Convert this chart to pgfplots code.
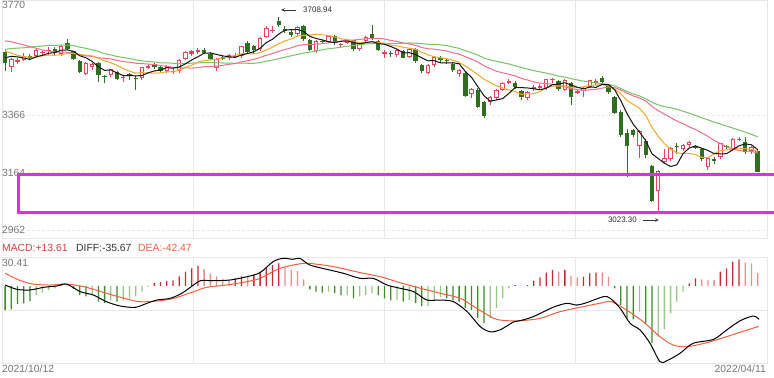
\documentclass[border=0pt]{standalone}
\usepackage{pgfplots}
\pgfplotsset{compat=1.18}
\usepackage{pgfplotstable}
\usepackage{fontspec}
\setmainfont{Liberation Sans}
\definecolor{upred}{RGB}{232,66,92}
\definecolor{dngreen}{RGB}{48,110,32}
\definecolor{ma5}{RGB}{20,20,20}
\definecolor{ma10}{RGB}{240,168,40}
\definecolor{ma20}{RGB}{240,110,140}
\definecolor{ma30}{RGB}{120,196,100}
\definecolor{gridc}{RGB}{232,232,232}
\definecolor{labc}{RGB}{120,120,120}
\definecolor{magen}{RGB}{222,48,222}
\definecolor{hred}{RGB}{196,40,48}
\definecolor{hredl}{RGB}{236,140,140}
\definecolor{hgrn}{RGB}{60,140,40}
\definecolor{hgrnl}{RGB}{150,200,130}
\definecolor{deac}{RGB}{240,96,64}
\definecolor{macdc}{RGB}{224,60,60}

\pgfplotstableread{
i o h l c m5 m10 m20 m30
0 3588 3594 3520 3547 3567.0 3590.3 3626.4 3596.7
1 3535 3565 3518 3562 3572.2 3583.7 3623.4 3599.5
2 3553 3567 3545 3558 3570.2 3575.3 3617.5 3601.0
3 3560 3584 3556 3572 3566.2 3571.2 3612.3 3602.0
4 3572 3580 3558 3568 3561.4 3569.7 3606.1 3604.3
5 3572 3598 3568 3593 3570.6 3568.8 3600.6 3606.6
6 3585 3592 3578 3587 3575.6 3573.9 3594.2 3608.6
7 3590 3604 3578 3595 3583.0 3576.6 3590.8 3610.3
8 3597 3604 3575 3583 3585.2 3575.7 3587.1 3610.8
9 3582 3612 3572 3610 3593.6 3577.5 3587.3 3611.3
10 3618 3634 3594 3598 3594.6 3582.6 3586.5 3611.8
11 3590 3592 3559 3562 3589.6 3582.6 3583.2 3609.8
12 3556 3558 3515 3518 3574.2 3578.6 3577.0 3604.5
13 3510 3552 3506 3547 3567.0 3576.1 3573.7 3600.2
14 3535 3550 3525 3544 3553.8 3573.7 3571.7 3595.3
15 3549 3552 3482 3506 3535.4 3565.0 3566.9 3588.7
16 3500 3506 3478 3499 3522.8 3556.2 3565.1 3581.5
17 3505 3528 3500 3527 3524.6 3549.4 3563.0 3577.0
18 3518 3522 3488 3492 3513.6 3540.3 3558.0 3571.5
19 3495 3502 3482 3499 3504.6 3529.2 3553.4 3567.9
20 3508 3515 3490 3507 3504.8 3520.1 3551.4 3564.3
21 3496 3502 3455 3492 3503.4 3513.1 3547.9 3559.8
22 3495 3536 3490 3533 3504.6 3514.6 3546.6 3556.2
23 3532 3545 3528 3539 3514.0 3513.8 3545.0 3553.7
24 3545 3550 3528 3533 3520.8 3512.7 3543.2 3552.0
25 3535 3542 3518 3522 3523.8 3514.3 3539.7 3549.4
26 3520 3540 3515 3537 3532.8 3518.1 3537.2 3549.4
27 3516 3530 3510 3521 3530.4 3517.5 3533.5 3547.8
28 3520 3563 3515 3560 3534.6 3524.3 3532.3 3546.8
29 3562 3592 3560 3589 3545.8 3533.3 3531.3 3546.7
30 3582 3594 3575 3590 3559.4 3541.6 3530.9 3548.1
31 3588 3600 3580 3593 3570.6 3551.7 3532.4 3549.1
32 3595 3600 3580 3584 3583.2 3556.8 3535.7 3550.0
33 3582 3586 3560 3564 3584.0 3559.3 3536.6 3549.7
34 3530 3566 3520 3563 3578.8 3562.3 3537.5 3549.6
35 3570 3578 3560 3564 3573.6 3566.5 3540.4 3548.6
36 3565 3582 3558 3577 3570.4 3570.5 3544.3 3548.3
37 3570 3584 3565 3574 3568.4 3575.8 3546.7 3547.6
38 3572 3610 3565 3607 3577.0 3580.5 3552.4 3548.4
39 3620 3625 3585 3589 3582.2 3580.5 3556.9 3547.7
40 3610 3612 3580 3595 3588.4 3581.0 3561.3 3547.6
41 3597 3640 3592 3638 3600.6 3585.5 3568.6 3550.1
42 3640 3680 3636 3673 3620.4 3594.4 3575.6 3555.3
43 3660 3677 3655 3666 3632.2 3604.6 3582.0 3559.2
44 3695 3709 3675 3681 3650.6 3616.4 3589.4 3563.8
45 3667 3677 3655 3662 3664.0 3626.2 3596.4 3569.0
46 3658 3665 3640 3648 3666.0 3633.3 3601.9 3574.0
47 3650 3678 3645 3675 3666.4 3643.4 3609.6 3578.9
48 3680 3682 3625 3632 3659.6 3645.9 3613.2 3583.6
49 3628 3632 3590 3594 3642.2 3646.4 3613.5 3586.7
50 3590 3628 3585 3625 3634.8 3649.4 3615.2 3590.7
51 3626 3630 3615 3623 3629.8 3647.9 3616.7 3595.0
52 3622 3645 3618 3643 3623.4 3644.9 3619.7 3598.7
53 3645 3648 3612 3618 3620.6 3640.1 3622.4 3601.3
54 3612 3620 3600 3616 3625.0 3633.6 3625.0 3604.1
55 3620 3632 3615 3630 3626.0 3630.4 3628.3 3607.7
56 3628 3630 3592 3597 3620.8 3625.3 3629.3 3609.7
57 3598 3622 3590 3619 3616.0 3619.7 3631.6 3613.0
58 3625 3642 3622 3640 3620.4 3620.5 3633.2 3615.6
59 3650 3682 3628 3632 3623.6 3624.3 3635.4 3617.1
60 3625 3628 3590 3595 3616.6 3621.3 3635.4 3617.2
61 3580 3596 3566 3586 3614.4 3617.6 3632.8 3617.0
62 3584 3590 3570 3580 3606.6 3611.3 3628.1 3616.9
63 3576 3598 3570 3594 3597.4 3608.9 3624.5 3617.9
64 3590 3595 3565 3567 3584.4 3604.0 3618.8 3618.0
65 3570 3600 3568 3597 3584.8 3600.7 3615.6 3619.1
66 3598 3602 3550 3555 3578.6 3596.5 3610.9 3618.4
67 3540 3545 3515 3521 3566.8 3586.7 3603.2 3616.6
68 3515 3545 3510 3542 3556.4 3576.9 3598.7 3614.4
69 3540 3575 3535 3570 3557.0 3570.7 3597.5 3613.8
70 3565 3575 3550 3558 3549.2 3567.0 3594.2 3612.6
71 3560 3568 3545 3555 3549.2 3563.9 3590.8 3609.8
72 3545 3550 3518 3523 3549.6 3558.2 3584.8 3604.8
73 3510 3528 3500 3524 3546.0 3551.2 3580.1 3600.1
74 3512 3516 3430 3433 3518.6 3537.8 3570.9 3591.8
75 3440 3460 3425 3456 3498.2 3523.7 3562.2 3584.9
76 3455 3462 3390 3394 3466.0 3507.6 3552.1 3576.5
77 3410 3416 3357 3361 3433.6 3491.6 3539.2 3566.0
78 3410 3433 3400 3430 3414.8 3480.4 3528.7 3559.3
79 3425 3456 3418 3453 3418.8 3468.7 3519.7 3554.6
80 3455 3481 3450 3480 3423.6 3460.9 3514.0 3549.7
81 3480 3492 3475 3486 3442.0 3454.0 3509.0 3545.2
82 3478 3484 3458 3463 3462.4 3448.0 3503.1 3539.2
83 3450 3455 3420 3429 3462.2 3438.5 3494.9 3532.9
84 3425 3450 3418 3447 3461.0 3439.9 3488.9 3527.2
85 3458 3470 3450 3466 3458.2 3440.9 3482.3 3521.8
86 3462 3475 3458 3468 3454.6 3448.3 3478.0 3517.5
87 3462 3493 3455 3491 3460.2 3461.3 3476.5 3513.2
88 3488 3496 3478 3491 3472.6 3467.4 3473.9 3508.2
89 3485 3490 3450 3457 3474.6 3467.8 3468.3 3502.4
90 3455 3491 3450 3489 3479.2 3468.7 3464.8 3498.9
91 3480 3482 3400 3430 3471.6 3463.1 3458.6 3493.7
92 3445 3455 3440 3451 3463.6 3461.9 3455.0 3489.4
93 3450 3465 3430 3462 3457.8 3465.2 3451.9 3485.0
94 3465 3490 3460 3489 3464.2 3469.4 3454.7 3482.4
95 3480 3492 3470 3484 3463.2 3471.2 3456.1 3478.6
96 3497 3502 3478 3481 3473.4 3472.5 3460.4 3476.1
97 3470 3472 3440 3448 3472.8 3468.2 3464.8 3473.7
98 3430 3432 3370 3373 3455.0 3456.4 3461.9 3468.1
99 3378 3382 3290 3294 3416.0 3440.1 3454.0 3458.9
100 3303 3318 3148 3256 3370.4 3416.8 3442.8 3448.8
101 3313 3318 3290 3296 3333.4 3403.4 3433.3 3440.2
102 3257 3315 3215 3310 3305.8 3389.3 3425.6 3433.1
103 3275 3280 3215 3224 3276.0 3365.5 3415.4 3423.1
104 3187 3190 3060 3064 3230.0 3323.0 3396.2 3410.8
105 3100 3172 3023.3 3171 3213.0 3291.7 3381.5 3401.3
106 3200 3245 3195 3215 3196.8 3265.1 3368.8 3395.3
107 3210 3255 3205 3251 3185.0 3245.4 3356.8 3391.6
108 3258 3268 3230 3254 3191.0 3233.5 3345.0 3385.8
109 3248 3265 3240 3260 3230.2 3230.1 3335.1 3379.3
110 3262 3276 3255 3271 3250.2 3231.6 3324.2 3372.4
111 3255 3260 3245 3250 3257.2 3227.0 3315.2 3364.5
112 3245 3250 3205 3212 3249.4 3217.2 3303.3 3356.1
113 3182 3218 3172 3215 3241.6 3216.3 3290.9 3349.0
114 3212 3218 3195 3204 3230.4 3230.3 3276.7 3340.9
115 3218 3268 3212 3267 3229.6 3239.9 3265.8 3334.3
116 3256 3262 3245 3252 3230.0 3243.6 3254.4 3327.1
117 3245 3285 3240 3283 3244.2 3246.8 3246.1 3320.1
118 3278 3290 3275 3283 3257.8 3249.7 3241.6 3313.2
119 3270 3290 3228 3237 3264.4 3247.4 3238.8 3305.9
120 3240 3256 3230 3252 3261.4 3245.5 3238.6 3298.0
121 3240 3245 3165 3167 3244.4 3237.2 3232.1 3289.2
}\kdata

\pgfplotstableread{
i v k
0 -25.2 3
1 -24.5 3
2 -19 3
3 -18.2 3
4 -15.8 3
5 -9.5 4
6 -7 4
7 -4.2 4
8 -2.5 4
9 1 1
10 1 2
11 -3 3
12 -9.5 3
13 -11 3
14 -9.5 4
15 -16.5 3
16 -18 3
17 -15 4
18 -16.5 3
19 -15 4
20 -13 4
21 -11 4
22 -6 4
23 -1 4
24 3 1
25 4 1
26 5 1
27 6 1
28 10 1
29 15 1
30 18.5 1
31 21 1
32 17.5 2
33 13 2
34 10 2
35 7 2
36 6.5 2
37 8 1
38 10 1
39 10 2
40 12 1
41 15 1
42 19.6 1
43 22 1
44 23.8 1
45 20 2
46 17 2
47 15.5 2
48 7 2
49 -3.5 3
50 -6 3
51 -7 3
52 -6 4
53 -7.5 3
54 -9.5 3
55 -9.5 4
56 -13 3
57 -11 4
58 -9.5 4
59 -7.5 4
60 -9.5 3
61 -13 3
62 -15 3
63 -15 4
64 -16.5 3
65 -15 4
66 -18 3
67 -21 3
68 -21 4
69 -15 4
70 -11.5 4
71 -13 3
72 -15 3
73 -16.5 3
74 -23 3
75 -25 3
76 -33.5 3
77 -39 3
78 -33.5 4
79 -23 4
80 -13 4
81 -2.5 4
82 1 1
83 0.5 2
84 1 1
85 5.6 1
86 9.1 1
87 14 1
88 16.8 1
89 15.1 2
90 16.8 1
91 10.8 2
92 9.1 2
93 9.8 1
94 13.3 1
95 14 1
96 14 2
97 9.8 2
98 -2.4 3
99 -20 3
100 -34 3
101 -35 3
102 -27 4
103 -39 3
104 -60 3
105 -53 4
106 -45.5 4
107 -28.7 4
108 -16.5 4
109 -6 4
110 2.8 1
111 8 1
112 7 2
113 6.3 2
114 6.3 2
115 15 1
116 18.5 1
117 25.5 1
118 28 1
119 24.5 2
120 23.8 2
121 13.6 2
}\hdata

\newcommand\lab{\fontsize{10.4}{12}\selectfont}
\newcommand\sml{\fontsize{8}{9.6}\selectfont}

\pgfplotsset{
  candle/.style 2 args={draw=none, no markers, forget plot,
    error bars/y dir=plus, error bars/y explicit, error bars/error mark=none,
    error bars/error bar style={draw=#1, line width=#2, solid}},
}

\begin{document}
\begin{tikzpicture}
\useasboundingbox (0,0) rectangle (774bp,-378bp);
\fill[white] (0,0) rectangle (774bp,-378bp);

% ===== main K-line panel =====
\begin{axis}[at={(2bp,0bp)}, anchor=north west, scale only axis,
  width=765bp, height=238bp,
  xmin=-0.5, xmax=122.5, ymin=2933.9, ymax=3770,
  axis line style={gridc, line width=0.8bp},
  xtick={30.25,61,91.75}, xticklabels={}, ytick=\empty,
  major tick length=0pt, xmajorgrids, grid style={gridc, line width=0.8bp},
  clip=false]
  \draw[gridc, line width=0.8bp, dash pattern=on 3bp off 2bp] (axis cs:-0.5,3366) -- (axis cs:122.5,3366);
  \draw[gridc, line width=0.8bp, dash pattern=on 3bp off 2bp] (axis cs:-0.5,3164) -- (axis cs:122.5,3164);
  \draw[gridc, line width=0.8bp, dash pattern=on 3bp off 2bp] (axis cs:-0.5,2962) -- (axis cs:122.5,2962);

  % wicks
  \addplot[candle={dngreen}{1bp},
    x filter/.expression={\thisrow{c}<\thisrow{o} ? x : nan}]
    table[x=i, y=l, y error expr={\thisrow{h}-\thisrow{l}}] {\kdata};
  \addplot[candle={upred}{1bp},
    x filter/.expression={\thisrow{c}<\thisrow{o} ? nan : x}]
    table[x=i, y=l, y error expr={\thisrow{h}-\thisrow{l}}] {\kdata};
  % bodies
  \addplot[candle={dngreen}{4.4bp},
    x filter/.expression={\thisrow{c}<\thisrow{o} ? x : nan}]
    table[x=i, y=c, y error expr={max(\thisrow{o}-\thisrow{c},3.5)}] {\kdata};
  \addplot[candle={upred}{4.4bp},
    x filter/.expression={\thisrow{c}<\thisrow{o} ? nan : x}]
    table[x=i, y=o, y error expr={max(\thisrow{c}-\thisrow{o},3.5)}] {\kdata};
  \addplot[candle={white}{2.4bp},
    x filter/.expression={\thisrow{c}-\thisrow{o}>8 ? x : nan}]
    table[x=i, y expr=\thisrow{o}+3.5, y error expr={\thisrow{c}-\thisrow{o}-7}] {\kdata};

  % moving averages
  \addplot[ma30, line width=1bp, mark=none] table[x=i, y=m30] {\kdata};
  \addplot[ma20, line width=1bp, mark=none] table[x=i, y=m20] {\kdata};
  \addplot[ma10, line width=1bp, mark=none] table[x=i, y=m10] {\kdata};
  \addplot[ma5, line width=1bp, mark=none] table[x=i, y=m5] {\kdata};

  % highlight box
  \draw[magen, line width=3bp] (axis cs:123.8,3158.7) -- (axis cs:2.1,3158.7) -- (axis cs:2.1,3025.2) -- (axis cs:123.8,3025.2);

  % high / low annotations
  \draw[->, >=stealth, line width=0.6bp, black!80] (axis cs:46.8,3735) -- (axis cs:44.4,3735);
  \node[anchor=west, inner sep=0pt, text=black!80, font=\sml] at (axis cs:47.9,3735) {3708.94};
  \draw[->, >=stealth, line width=0.6bp, black!80] (axis cs:102.6,2997) -- (axis cs:105.1,2997);
  \node[anchor=east, inner sep=0pt, text=black!80, font=\sml] at (axis cs:101.6,2997) {3023.30};
\end{axis}

% ===== MACD panel =====
\begin{axis}[at={(2bp,-257bp)}, anchor=north west, scale only axis,
  width=765bp, height=106bp,
  xmin=-0.5, xmax=122.5, ymin=-80.8, ymax=30.41,
  axis line style={gridc, line width=0.8bp},
  xtick={30.25,61,91.75}, xticklabels={}, ytick={-25.2}, yticklabels={},
  major tick length=0pt, grid=major, grid style={gridc, line width=0.8bp}]
  \addplot[ybar, bar width=1.3bp, bar shift=0pt, fill=hred, draw=none, forget plot,
    x filter/.expression={\thisrow{k}==1 ? x : nan}] table[x=i, y=v] {\hdata};
  \addplot[ybar, bar width=1.3bp, bar shift=0pt, fill=hredl, draw=none, forget plot,
    x filter/.expression={\thisrow{k}==2 ? x : nan}] table[x=i, y=v] {\hdata};
  \addplot[ybar, bar width=1.3bp, bar shift=0pt, fill=hgrn, draw=none, forget plot,
    x filter/.expression={\thisrow{k}==3 ? x : nan}] table[x=i, y=v] {\hdata};
  \addplot[ybar, bar width=1.3bp, bar shift=0pt, fill=hgrnl, draw=none, forget plot,
    x filter/.expression={\thisrow{k}==4 ? x : nan}] table[x=i, y=v] {\hdata};

  \addplot[deac, line width=1bp, mark=none, smooth] coordinates {
    (0,13.3) (2.2,6.3) (4.4,2.1) (7.2,1) (9.9,2) (13.1,-1.4) (16.3,-7.7) (19.6,-13.7)
    (21.7,-16.5) (24.4,-15.8) (27.1,-13) (30.3,-6) (32.4,-1.4) (35.6,1) (38.9,4.6)
    (41,8) (44.2,18.5) (48,23.8) (50.1,22.8) (52.8,20.3) (57.1,14) (60.3,9.8)
    (63.5,3.5) (66.8,-2.4) (70,-7.7) (73.2,-13) (75.4,-21.7) (78.6,-34) (80.7,-36.4)
    (82.9,-36.4) (86,-34) (89.2,-27) (92.4,-22.4) (95.6,-18.2) (97.5,-16.5)
    (99.9,-25.2) (102.6,-37.5) (105.3,-53.2) (107.4,-61.9) (109.6,-63.7)
    (112.8,-59.5) (116,-53.2) (119.3,-46.2) (121.2,-42.4)};
  \addplot[black, line width=1bp, mark=none, smooth] coordinates {
    (0,1) (1.9,-3.5) (4,-4.2) (6.2,-1.4) (8.3,0) (9.9,2) (12.1,-6) (14.2,-9.5)
    (16.3,-16.5) (18.5,-21) (20.9,-22.4) (22.8,-18.2) (24.4,-14.7) (26.5,-13)
    (28.4,-7.7) (30.3,1) (31.4,5.6) (33.5,5.6) (36.2,6.3) (38.9,9.8) (41,14)
    (43.1,25.6) (44.7,29) (46.3,28) (47.4,29) (49,22) (51.7,17.5) (54.4,13.3)
    (57.1,8) (59.2,8) (61.4,1) (63.5,-2.4) (65.7,-6) (67.8,-14.7) (70,-14.7)
    (72.1,-16.5) (74.3,-27) (76.4,-42.7) (78,-48) (79.6,-46) (81.8,-37.5)
    (82.8,-36.4) (84.9,-32.2) (88.1,-22.4) (90.3,-18.2) (91.9,-20) (93.5,-17.5)
    (96.2,-11.2) (97.3,-13) (98.9,-23.5) (100.5,-39.2) (102.1,-46.2) (103.7,-60.2)
    (105.3,-79.5) (106.4,-78.4) (108.5,-70.7) (110.6,-60.2) (113.9,-56) (116,-46.2)
    (118.2,-36.4) (120.3,-31.5) (121.2,-35)};
\end{axis}

% ===== texts =====
\node[anchor=west, inner sep=0pt, text=labc, font=\lab] at (2bp,-4.5bp) {3770};
\node[anchor=west, inner sep=0pt, text=labc, font=\lab] at (2bp,-115bp) {3366};
\node[anchor=west, inner sep=0pt, text=labc, font=\lab] at (2bp,-173bp) {3164};
\node[anchor=west, inner sep=0pt, text=labc, font=\lab] at (2bp,-230bp) {2962};
\node[anchor=west, inner sep=0pt, text=macdc, font=\lab] at (2bp,-248bp) {MACD:+13.61};
\node[anchor=west, inner sep=0pt, text=black!80, font=\lab] at (76bp,-248bp) {DIFF:-35.67};
\node[anchor=west, inner sep=0pt, text=deac, font=\lab] at (138bp,-248bp) {DEA:-42.47};
\node[anchor=west, inner sep=0pt, text=labc, font=\lab] at (2bp,-263bp) {30.41};
\node[anchor=west, inner sep=0pt, text=labc, font=\lab] at (2bp,-369bp) {2021/10/12};
\node[anchor=east, inner sep=0pt, text=labc, font=\lab] at (766bp,-369bp) {2022/04/11};
\end{tikzpicture}
\end{document}
